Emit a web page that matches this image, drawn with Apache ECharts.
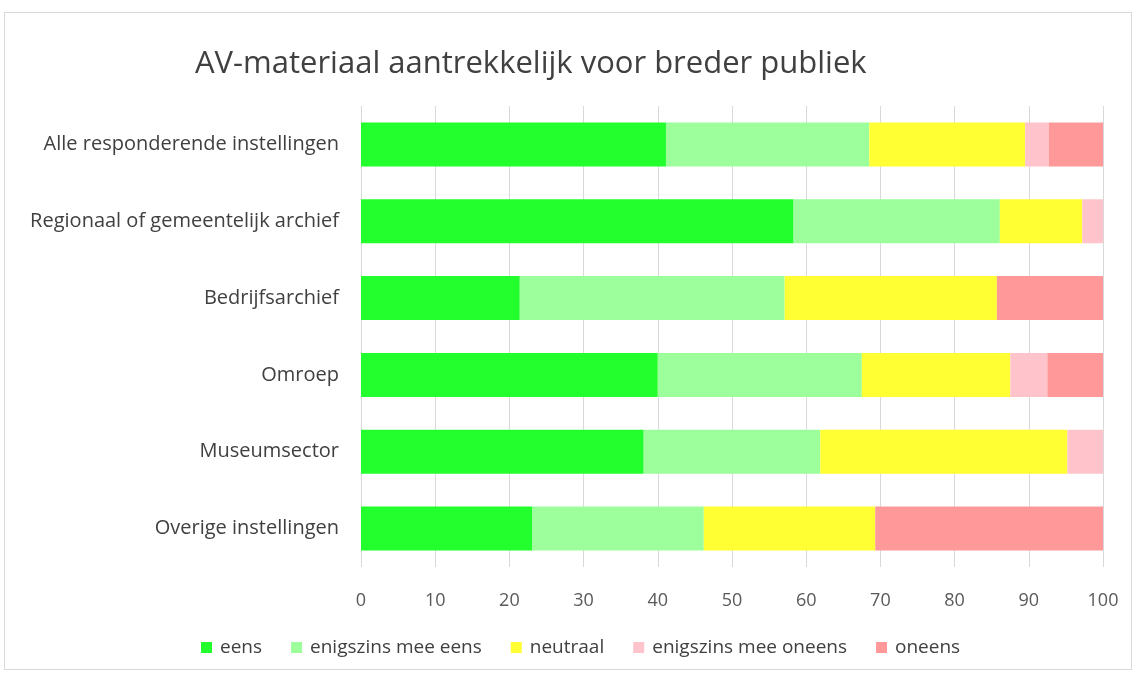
<!DOCTYPE html>
<html>
<head>
<meta charset="utf-8">
<script src="https://cdn.jsdelivr.net/npm/echarts@6/dist/echarts.min.js"></script>
<style>
  html, body { margin: 0; padding: 0; background: #fff; }
  #frame { position: absolute; left: 4px; top: 12px; width: 1126px; height: 656px; border: 1px solid #d9d9d9; }
  #chart { position: absolute; left: 0; top: 0; width: 1138px; height: 677px; }
</style>
</head>
<body>
<div id="frame"></div>
<div id="chart"></div>
<script>
const categories = [
  'Alle responderende instellingen',
  'Regionaal of gemeentelijk archief',
  'Bedrijfsarchief',
  'Omroep',
  'Museumsector',
  'Overige instellingen',
]
const seriesNames = ['eens', 'enigszins mee eens', 'neutraal', 'enigszins mee oneens', 'oneens']
const colors = ['#22ff2c', '#9cff9c', '#ffff33', '#ffc4cb', '#ff9999']

// percentages per category, same order as categories
const eens = [41.1, 58.3, 21.4, 40.0, 38.1, 23.1]
const enigszinsEens = [27.4, 27.8, 35.7, 27.5, 23.8, 23.1]
const neutraal = [21.0, 11.1, 28.6, 20.0, 33.3, 23.1]
const enigszinsOneens = [3.2, 2.8, 0, 5.0, 4.8, 0]
const oneens = [7.3, 0, 14.3, 7.5, 0, 30.7]

const xTicks = [0, 10, 20, 30, 40, 50, 60, 70, 80, 90, 100]

const values = [eens, enigszinsEens, neutraal, enigszinsOneens, oneens]

const chart = echarts.init(document.getElementById('chart'), null, { renderer: 'canvas' })

const series = seriesNames.map((name, i) => ({
  name,
  type: 'bar',
  stack: 'total',
  barWidth: 44,
  data: values[i],
  itemStyle: { color: colors[i] },
  emphasis: { disabled: true },
}))

chart.setOption({
  animation: false,
  backgroundColor: 'transparent',
  title: {
    text: 'AV-materiaal aantrekkelijk voor breder publiek',
    left: 190,
    top: 44,
    textStyle: { color: '#404040', fontSize: 31, fontWeight: 'normal', fontFamily: 'Open Sans' },
  },
  grid: { left: 361, right: 35, top: 106, bottom: 110, containLabel: false },
  legend: {
    bottom: 15,
    left: 196,
    itemWidth: 11,
    itemHeight: 11,
    itemGap: 29,
    icon: 'rect',
    data: seriesNames,
    textStyle: { color: '#404040', fontSize: 19, fontFamily: 'Open Sans', padding: [0, 0, 0, 3] },
  },
  xAxis: {
    type: 'value',
    min: 0,
    max: 100,
    interval: 10,
    axisLine: { show: false },
    axisTick: { show: false },
    axisLabel: {
      color: '#595959', fontSize: 18, fontFamily: 'Open Sans', margin: 25,
      formatter: v => xTicks.includes(v) ? String(v) : '',
    },
    splitLine: { lineStyle: { color: '#d9d9d9', width: 1 } },
  },
  yAxis: {
    type: 'category',
    inverse: true,
    data: categories,
    axisLine: { show: false },
    axisTick: { show: false },
    axisLabel: { color: '#404040', fontSize: 20, fontFamily: 'Open Sans', margin: 22 },
  },
  series,
})
</script>
</body>
</html>
